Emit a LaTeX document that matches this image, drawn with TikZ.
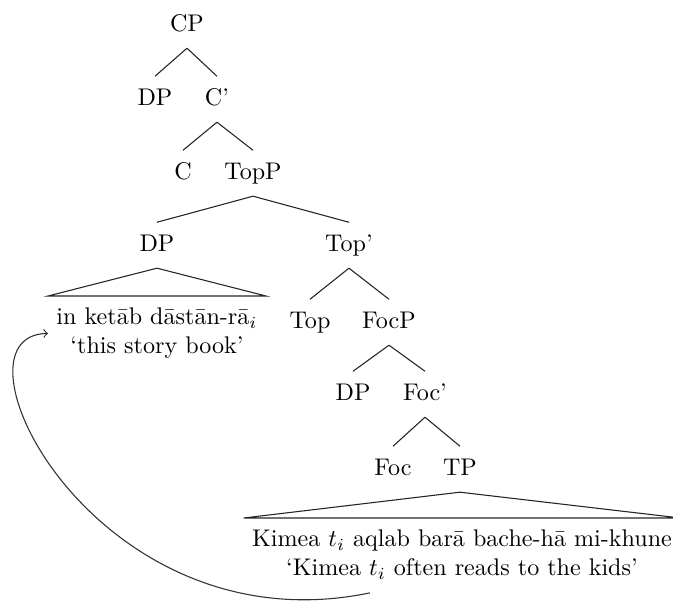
\documentclass[tikz,border=0pt]{standalone}
\usetikzlibrary{calc}
\begin{document}
\begin{tikzpicture}[x=0.415pt,y=-0.415pt,
  tn/.style={anchor=base, text height=8.4pt, text depth=3.6pt, inner sep=3.33pt},
  leaf/.style={anchor=north, align=center, inner sep=3.33pt},
  br/.style={draw=black!85, line width=0.45pt},
  mv/.style={draw=black!80, line width=0.45pt, ->},
  ]
\useasboundingbox (0,0) rectangle (673,603);
% tree nodes
\node[tn] (cp) at (187,31) {CP};
\node[tn] (dp1) at (155,105) {DP};
\node[tn] (cbar) at (217,105) {C'};
\node[tn] (c) at (183,179) {C};
\node[tn] (topp) at (253,179) {TopP};
\node[tn] (dp2) at (157,251) {DP};
\node[tn] (topbar) at (349,251) {Top'};
\node[tn] (top) at (310,328) {Top};
\node[tn] (focp) at (389,328) {FocP};
\node[tn] (dp3) at (353,400) {DP};
\node[tn] (focbar) at (425,400) {Foc'};
\node[tn] (foc) at (393,475) {Foc};
\node[tn] (tp) at (460,475) {TP};
% leaves
\node[leaf] (dptext) at (157,296) {\strut in ket\=ab d\=ast\=an-r\=a$_i$\\ \strut`this story book'};
\node[leaf] (tptext) at (462,518) {\strut Kimea $t_i$ aqlab bar\=a bache-h\=a mi-khune\\ \strut`Kimea $t_i$ often reads to the kids'};
% branches
\draw[br] (cp.south) -- (dp1.north);
\draw[br] (cp.south) -- (cbar.north);
\draw[br] (cbar.south) -- (c.north);
\draw[br] (cbar.south) -- (topp.north);
\draw[br] (topp.south) -- (dp2.north);
\draw[br] (topp.south) -- (topbar.north);
\draw[br] (topbar.south) -- (top.north);
\draw[br] (topbar.south) -- (focp.north);
\draw[br] (focp.south) -- (dp3.north);
\draw[br] (focp.south) -- (focbar.north);
\draw[br] (focbar.south) -- (foc.north);
\draw[br] (focbar.south) -- (tp.north);
% triangles
\draw[br] (dp2.south) -- (dptext.north west) -- (dptext.north east) -- cycle;
\draw[br] (tp.south) -- (tptext.north west) -- (tptext.north east) -- cycle;
% movement arrow
\coordinate (tstart) at ($(tptext.south)+(-92,0)$);
\draw[mv] (tstart) .. controls (95,650) and (-60,335) .. (dptext.west);
\end{tikzpicture}
\end{document}
